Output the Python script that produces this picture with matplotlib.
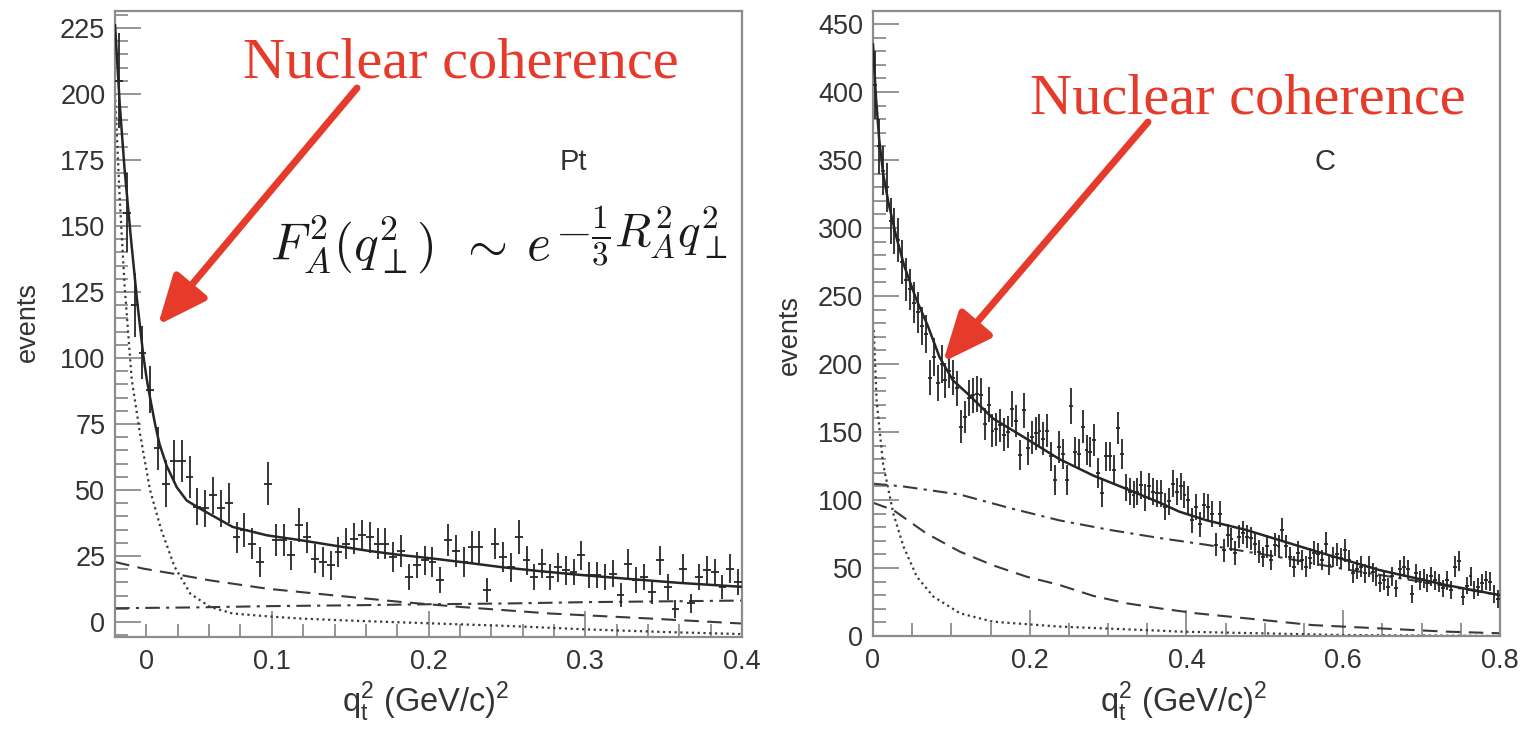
import matplotlib
matplotlib.use('Agg')
import matplotlib.pyplot as plt
from matplotlib.patches import FancyArrowPatch
from matplotlib.ticker import MultipleLocator, FixedLocator
import numpy as np

plt.rcParams['font.family'] = ['Liberation Sans', 'DejaVu Sans']

# ---------------- Pt panel (left) ----------------
pt_bin_width = 0.005
pt_counts = [205, 155, 120, 102, 88, 65.7, 52.4, 61, 61, 55,
             43.6, 43, 48, 43, 45, 32, 34.7, 29.7, 22.7, 52.4,
             31, 31, 25.3, 36.6, 32, 24, 22.7, 21.5, 26.5, 29.7,
             31.6, 32.8, 32, 29.7, 29.7, 24.6, 27, 17, 21.5, 23.4,
             22.7, 15.8, 31, 27, 22.7, 28.4, 28.4, 12, 29.7, 24.6,
             20.8, 32.2, 23.4, 17, 22, 17, 20.8, 19.6, 19, 25.3,
             17.7, 17.7, 17, 18.3, 10.1, 22, 15.8, 17, 11.4, 23.4,
             13.3, 5, 20.2, 7, 17, 19.6, 19, 13.3, 20.2, 15.2]
pt_errors = [18, 15, 12, 10, 9, 8, 9, 8, 8, 8,
             7, 7, 7, 7, 7.5, 6, 6.5, 6, 5.5, 8,
             6, 6, 5.5, 6.5, 6, 5.5, 5.5, 5.5, 5.5, 6,
             6, 6, 6, 6, 6, 5.5, 6, 5, 5, 5.5,
             5.5, 5, 6, 6, 5.5, 6, 6, 4.5, 6, 5.5,
             5.5, 6.5, 5.5, 5, 5.5, 5, 5.5, 5.5, 5, 5.5,
             5, 5, 5, 5, 4.5, 5.5, 5, 5, 4.5, 5.5,
             5, 3.5, 5.5, 3.5, 5, 5.5, 5, 4.5, 5.5, 5]

pt_total_x = [0.0, 0.003, 0.006, 0.01, 0.014, 0.018, 0.0202, 0.0223, 0.0255, 0.0283,
              0.033, 0.0394, 0.0457, 0.054, 0.075, 0.097, 0.118, 0.139, 0.161, 0.18,
              0.203, 0.225, 0.246, 0.27, 0.299, 0.33, 0.36, 0.4]
pt_total_y = [226, 196, 172, 146, 122, 101, 92, 85, 75, 67.5,
              59, 51, 46, 43, 36, 32.8, 31, 29, 27, 25.5,
              24, 22.4, 20.8, 19.3, 17.7, 16.2, 14.8, 13.3]
pt_coh_x = [0.0, 0.003, 0.006, 0.0106, 0.016, 0.0223, 0.0294, 0.0379, 0.048, 0.0606,
            0.075, 0.1, 0.118, 0.15, 0.2, 0.25, 0.3, 0.35, 0.4]
pt_coh_y = [200, 160, 128, 92, 71, 50, 35, 21, 10.7, 5.7,
            3.2, 2, 1.3, 0.5, -0.5, -1.5, -2.8, -3.8, -4.6]
pt_dash_x = [0.0, 0.018, 0.037, 0.06, 0.097, 0.139, 0.182, 0.22, 0.2775, 0.341, 0.4]
pt_dash_y = [22.7, 20.2, 18.3, 15.8, 12.6, 10.1, 7.6, 5.7, 3.2, 1.3, -0.6]
pt_dashdot_x = [0.0, 0.05, 0.1, 0.15, 0.2, 0.25, 0.3, 0.35, 0.4]
pt_dashdot_y = [5.2, 5.5, 6.0, 6.3, 6.7, 7.0, 7.5, 7.8, 8.1]

# ---------------- C panel (right) ----------------
c_bin_width = 0.005
c_counts = [405, 360, 342, 330, 305, 298, 291, 275, 262, 255,
            245, 238, 228, 222, 190, 205, 186, 200, 188, 195,
            190, 182,
            154, 161, 175, 177, 178, 177, 156, 170, 151, 152,
            155, 148, 150, 167, 158, 133, 166, 138, 146, 149,
            151, 145, 151, 132, 115, 139, 134, 115, 169, 135,
            134, 154, 137, 135, 144, 120, 105, 132, 132, 122,
            153, 134, 109, 106, 104, 106, 111, 102, 110, 106,
            105, 105, 95, 99, 112, 106,
            110, 104, 100, 85, 95, 82, 96, 95, 90, 67,
            90, 63, 74, 71, 61, 73, 76, 73, 72, 68,
            62, 58, 66, 56, 67, 66, 78, 66, 58, 51, 61,
            56, 51, 57, 61, 60, 56, 68, 52, 58, 60,
            57, 63, 56, 46, 49, 51, 46, 51, 47, 44, 39,
            41, 36, 44, 35, 49, 51, 49, 31, 46, 41,
            42, 39, 44, 41, 39, 35, 41, 34, 51, 55, 29,
            37, 44, 34, 36, 39, 41, 40, 31, 27]
c_errors = [25, 20, 18, 18, 17, 17, 16, 16, 16, 15,
            15, 15, 14, 14, 13, 14, 13, 14, 13, 13,
            13, 13,
            12, 12, 13, 13, 13, 13, 12, 13, 12, 12,
            12, 12, 12, 13, 12, 11, 13, 12, 12, 12,
            12, 12, 12, 11, 11, 12, 11, 11, 13, 11,
            11, 12, 11, 11, 12, 11, 10, 11, 11, 11,
            12, 11, 10, 10, 10, 10, 10, 10, 10, 10,
            10, 10, 10, 10, 10, 10,
            10, 10, 10, 9, 9.5, 9, 9.5, 9.5, 9.5, 8.5,
            9.5, 8.5, 8.5, 8.5, 8.5, 8.5, 8.5, 8.5, 8.5, 8.5,
            8.5, 7.5, 8.5, 7.5, 8.5, 8.5, 8.5, 8.5, 7.5, 7.5, 8.5,
            7.5, 7.5, 7.5, 8.5, 8.5, 7.5, 8.5, 7.5, 7.5, 8.5,
            7.5, 8.5, 7.5, 7, 7, 7.5, 7, 7.5, 7, 7, 6.5,
            7, 6.5, 7, 6.5, 7, 7.5, 7, 6.5, 7, 7,
            7, 6.5, 7, 7, 6.5, 6.5, 7, 6.5, 7.5, 7.5, 6.5,
            6.5, 7, 6.5, 6.5, 6.5, 7, 7, 6.5, 6.5]

c_total_x = [0.0, 0.004, 0.008, 0.013, 0.02, 0.03, 0.04, 0.055, 0.07, 0.085,
             0.102, 0.123, 0.153, 0.196, 0.238, 0.281, 0.324, 0.366, 0.391, 0.426,
             0.476, 0.561, 0.646, 0.731, 0.8]
c_total_y = [435, 395, 365, 340, 318, 293, 272, 248, 228, 205,
             188, 177, 160, 145, 130, 118, 108, 98, 91.4, 85,
             78, 63, 48.5, 37.5, 30]
c_coh_x = [0.001, 0.0047, 0.0128, 0.026, 0.039, 0.056, 0.077, 0.111, 0.153, 0.238,
           0.366, 0.391, 0.6, 0.8]
c_coh_y = [225, 173, 127, 90, 65.7, 43.6, 29, 16.7, 10.5, 6.9,
           3.9, 3.2, 0.7, 0.0]
c_dash_x = [0.0, 0.026, 0.068, 0.111, 0.153, 0.196, 0.238, 0.281, 0.324, 0.366,
            0.412, 0.476, 0.561, 0.646, 0.731, 0.8]
c_dash_y = [98, 92.6, 75.5, 62, 52, 43.6, 37.5, 29.5, 24, 20.3,
            16.7, 13, 8, 5.6, 3.2, 2]
c_dashdot_x = [0.0, 0.038, 0.111, 0.175, 0.238, 0.302, 0.366, 0.426, 0.518, 0.603,
               0.688, 0.8]
c_dashdot_y = [112, 110, 104, 94, 85, 78, 72, 67, 58, 49,
               41, 30]

# ---------------- figure ----------------
FRAME = '#8c8c8c'
INK = '#262626'
CURVE = '#3a3a3a'
LABEL = '#333333'
RED = '#e63b2a'
W, H = 1524.0, 730.0

fig = plt.figure(figsize=(15.24, 7.30), dpi=100)
axL = fig.add_axes([0.0755, 0.1274, 0.4114, 0.8575])
axR = fig.add_axes([0.5728, 0.1288, 0.4114, 0.856])


def style(ax):
    for s in ax.spines.values():
        s.set_color(FRAME)
        s.set_linewidth(1.6)
    ax.tick_params(which='both', direction='in', color=FRAME, width=1.3,
                   labelsize=19.5, labelcolor=LABEL, top=False, right=False)
    ax.tick_params(which='major', length=19)
    ax.tick_params(which='minor', length=9.5)
    ax.tick_params(axis='y', pad=7)
    ax.tick_params(axis='x', pad=9)


def draw(ax, counts, errors, width, tx, ty, cx, cy, dx, dy, ddx, ddy):
    centers = width / 2 + width * np.arange(len(counts))
    ax.errorbar(centers, counts, yerr=errors, xerr=width / 2, fmt='none',
                ecolor=INK, elinewidth=1.3, capsize=0, zorder=3)
    ax.plot(tx, ty, color=INK, lw=1.8, zorder=4)
    ax.plot(cx, cy, color=CURVE, lw=1.6, linestyle=(0, (1, 1.6)), zorder=2)
    ax.plot(dx, dy, color=CURVE, lw=1.5, linestyle=(0, (7, 4)), zorder=2)
    ax.plot(ddx, ddy, color=CURVE, lw=1.5, linestyle=(0, (7, 3, 1.5, 3)), zorder=2)


draw(axL, pt_counts, pt_errors, pt_bin_width, pt_total_x, pt_total_y,
     pt_coh_x, pt_coh_y, pt_dash_x, pt_dash_y, pt_dashdot_x, pt_dashdot_y)
draw(axR, c_counts, c_errors, c_bin_width, c_total_x, c_total_y,
     c_coh_x, c_coh_y, c_dash_x, c_dash_y, c_dashdot_x, c_dashdot_y)

style(axL)
style(axR)

axL.set_xlim(0, 0.4)
axL.set_ylim(-5.7, 231.4)
axL.xaxis.set_major_locator(FixedLocator([0.1, 0.2, 0.3, 0.4]))
axL.xaxis.set_minor_locator(MultipleLocator(0.02))
axL.yaxis.set_major_locator(MultipleLocator(25))
axL.yaxis.set_minor_locator(MultipleLocator(5))
axL.set_xticklabels(['0.1', '0.2', '0.3', '0.4'])
axL.annotate('0', xy=(0.02, 0), xycoords=('data', 'axes fraction'),
             xytext=(0, -9), textcoords='offset points', ha='center', va='top',
             fontsize=19.5, color=LABEL)

axR.set_xlim(0, 0.8)
axR.set_ylim(0, 459.5)
axR.xaxis.set_minor_locator(MultipleLocator(0.05))
axR.yaxis.set_major_locator(MultipleLocator(50))
axR.yaxis.set_minor_locator(MultipleLocator(10))
axR.set_xticks([0, 0.2, 0.4, 0.6, 0.8])
axR.set_xticklabels(['0', '0.2', '0.4', '0.6', '0.8'])

xlab = r'q$_\mathregular{t}^\mathregular{2}$ (GeV/c)$^\mathregular{2}$'
for cxp in (426, 1184):
    fig.text(cxp / W, 1 - 712 / H, xlab, ha='center', va='baseline',
             fontsize=23.5, color=LABEL)
fig.text(28 / W, 1 - 322 / H, 'events', rotation=90, ha='center', va='center',
         fontsize=19.5, color=LABEL)
fig.text(790 / W, 1 - 335 / H, 'events', rotation=90, ha='center', va='center',
         fontsize=19.5, color=LABEL)

fig.text(573 / W, 1 - 162 / H, 'Pt', ha='center', va='center', fontsize=21, color=LABEL)
fig.text(1325 / W, 1 - 162 / H, 'C', ha='center', va='center', fontsize=21, color=LABEL)

# formula, built from pieces so the spacing and exponent size follow the picture
FORM = '#1a1a1a'
fig.text(270 / W, 1 - 260 / H, r'$F_A^2(q_\perp^2)$',
         math_fontfamily='cm', fontsize=37, color=FORM, ha='left', va='baseline')
fig.text(458 / W, 1 - 260 / H, r'$\sim$',
         math_fontfamily='cm', fontsize=37, color=FORM, ha='left', va='baseline')
fig.text(526 / W, 1 - 260 / H, r'$e$',
         math_fontfamily='cm', fontsize=37, color=FORM, ha='left', va='baseline')
fig.text(555 / W, 1 - 246 / H, r'$-\frac{1}{3}R_A^2q_\perp^2$',
         math_fontfamily='cm', fontsize=34, color=FORM, ha='left', va='baseline')

fig.text(243 / W, 1 - 78 / H, 'Nuclear coherence', family='Liberation Serif',
         fontsize=42, color=RED, ha='left', va='baseline')
fig.text(1030 / W, 1 - 113 / H, 'Nuclear coherence', family='Liberation Serif',
         fontsize=42, color=RED, ha='left', va='baseline')

astyle = '-|>,head_length=1.5,head_width=0.65'
for tail, tip in (((357, 88), (158, 325)), ((1148, 122), (943, 362))):
    fig.add_artist(FancyArrowPatch(
        posA=(tail[0] / W, 1 - tail[1] / H), posB=(tip[0] / W, 1 - tip[1] / H),
        transform=fig.transFigure, arrowstyle=astyle, lw=5,
        color=RED, mutation_scale=20, shrinkA=0, shrinkB=0))

fig.savefig('out.png', dpi=100)
